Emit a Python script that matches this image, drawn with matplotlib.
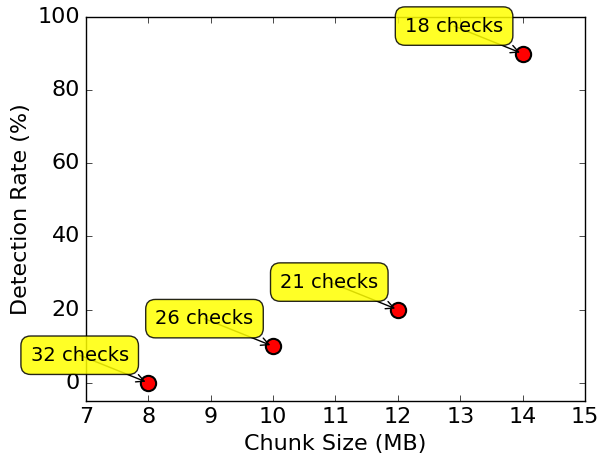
import matplotlib
matplotlib.use("Agg")
import matplotlib.pyplot as plt

chunk_sizes = [8, 10, 12, 14]
detection_rates = [0, 10, 20, 90]
labels = ["32 checks", "26 checks", "21 checks", "18 checks"]

plt.style.use("classic")
plt.rcParams["font.family"] = ["DejaVu Sans"]
fig = plt.figure(figsize=(6, 4.61), dpi=100, facecolor="white")
ax = fig.add_axes([0.143, 0.13, 0.832, 0.833])
ax.plot(chunk_sizes, detection_rates, "o", color="red", markeredgecolor="black",
        markeredgewidth=1.5, markersize=11)
for x, y, t in zip(chunk_sizes, detection_rates, labels):
    ax.annotate(t, xy=(x, y), xytext=(-14, 13), textcoords="offset points",
                ha="right", va="bottom", fontsize=14,
                bbox=dict(boxstyle="round,pad=0.5", fc="yellow", alpha=0.85),
                arrowprops=dict(arrowstyle="->", connectionstyle="arc3,rad=0",
                                patchA=None, shrinkA=0, shrinkB=2))
ax.set_xlim(7, 15)
ax.set_ylim(-5, 100)
ax.set_xlabel("Chunk Size (MB)", fontsize=16)
ax.set_ylabel("Detection Rate (%)", fontsize=16)
ax.tick_params(labelsize=16)
fig.savefig("out.png", dpi=100, facecolor="white")
